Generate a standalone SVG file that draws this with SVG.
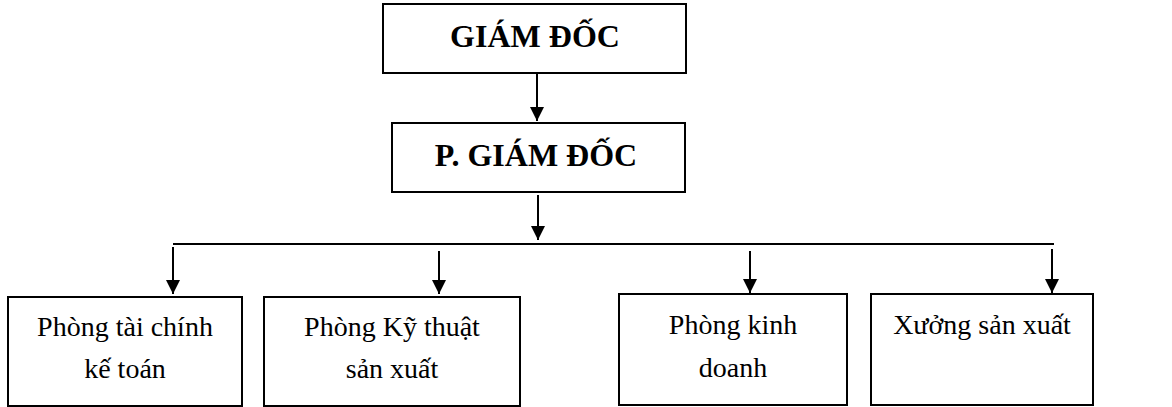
<svg xmlns="http://www.w3.org/2000/svg" width="1172" height="407" viewBox="0 0 1172 407">
<style>
.box{fill:#fff;stroke:#000;stroke-width:2}
.t{font-family:"Liberation Serif","Times New Roman",serif;fill:#000;text-anchor:middle}
.b{font-weight:bold;font-size:32px}
.n{font-size:28px}
.c{stroke:#000;stroke-width:2;fill:none}
</style>
<defs>
<marker id="ah" markerWidth="14" markerHeight="14" viewBox="0 0 14 14" refX="14" refY="7" orient="auto" markerUnits="userSpaceOnUse">
<path d="M0,0 L14,7 L0,14 Z" fill="#000"/>
</marker>
</defs>
<rect width="1172" height="407" fill="#fff"/>
<g id="connectors">
<line class="c" x1="537" y1="74" x2="537" y2="121" marker-end="url(#ah)"/>
<line class="c" x1="538" y1="195" x2="538" y2="240" marker-end="url(#ah)"/>
<line class="c" x1="173" y1="244" x2="1054" y2="244"/>
<line class="c" x1="173" y1="247" x2="173" y2="294" marker-end="url(#ah)"/>
<line class="c" x1="439" y1="251" x2="439" y2="294" marker-end="url(#ah)"/>
<line class="c" x1="750" y1="251" x2="750" y2="293" marker-end="url(#ah)"/>
<line class="c" x1="1052" y1="249" x2="1052" y2="293" marker-end="url(#ah)"/>
</g>
<g id="giam-doc">
<rect class="box" x="383" y="4" width="303" height="69"/>
<text class="t b" x="535" y="47">GIÁM ĐỐC</text>
</g>
<g id="p-giam-doc">
<rect class="box" x="392" y="123" width="293" height="69"/>
<text class="t b" x="536" y="166">P. GIÁM ĐỐC</text>
</g>
<g id="tai-chinh">
<rect class="box" x="8" y="297" width="234" height="109"/>
<text class="t n" x="125" y="336">Phòng tài chính</text>
<text class="t n" x="125" y="378">kế toán</text>
</g>
<g id="ky-thuat">
<rect class="box" x="264" y="297" width="256" height="109"/>
<text class="t n" x="392" y="336">Phòng Kỹ thuật</text>
<text class="t n" x="392" y="378">sản xuất</text>
</g>
<g id="kinh-doanh">
<rect class="box" x="619" y="294" width="228" height="111"/>
<text class="t n" x="733" y="334">Phòng kinh</text>
<text class="t n" x="733" y="377">doanh</text>
</g>
<g id="xuong">
<rect class="box" x="871" y="294" width="222" height="111"/>
<text class="t n" x="982" y="334">Xưởng sản xuất</text>
</g>
</svg>
